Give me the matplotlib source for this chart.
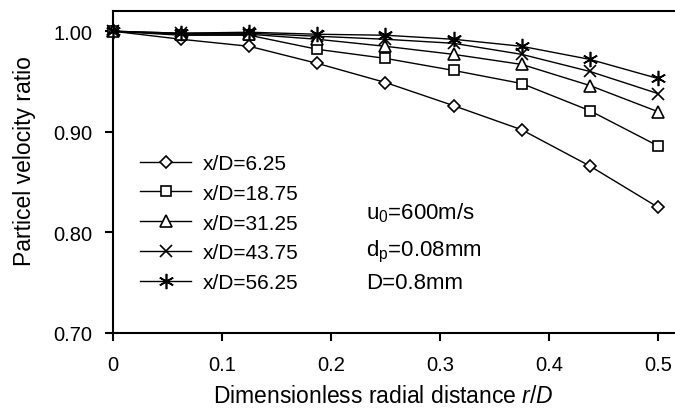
import matplotlib
matplotlib.use('Agg')
from matplotlib import pyplot as plt

plt.rcParams['font.family'] = ['Liberation Sans', 'DejaVu Sans']
plt.rcParams['mathtext.fontset'] = 'custom'
plt.rcParams['mathtext.rm'] = 'Liberation Sans'
plt.rcParams['mathtext.it'] = 'Liberation Sans:italic'

# Radial positions r/D
r_over_d = [0, 0.0625, 0.125, 0.1875, 0.25, 0.3125, 0.375, 0.4375, 0.5]

# Particle velocity ratio for each axial station
v_625 = [1.000, 0.992, 0.985, 0.968, 0.949, 0.926, 0.902, 0.866, 0.825]
v_1875 = [1.000, 0.996, 0.996, 0.982, 0.973, 0.961, 0.948, 0.921, 0.886]
v_3125 = [1.000, 0.997, 0.997, 0.992, 0.985, 0.977, 0.967, 0.946, 0.920]
v_4375 = [1.000, 0.998, 0.998, 0.995, 0.992, 0.988, 0.977, 0.960, 0.938]
v_5625 = [1.000, 0.998, 0.999, 0.997, 0.996, 0.992, 0.985, 0.972, 0.953]

labels = ['x/D=6.25', 'x/D=18.75', 'x/D=31.25', 'x/D=43.75', 'x/D=56.25']
series = [v_625, v_1875, v_3125, v_4375, v_5625]
markers = ['D', 's', '^', 'x', (6, 2, 0)]
msizes = [6.5, 7.5, 9, 9, 11]

x_ticks = [0, 0.1, 0.2, 0.3, 0.4, 0.5]
x_ticklabels = ['0', '0.1', '0.2', '0.3', '0.4', '0.5']
y_ticks = [0.70, 0.80, 0.90, 1.00]

fig = plt.figure(figsize=(6.75, 4.10), dpi=100)
ax = fig.add_axes([113 / 675, 1 - 334 / 410, 562 / 675, (334 - 11.7) / 410])

for vals, lab, mk, ms in zip(series, labels, markers, msizes):
    ax.plot(r_over_d, vals, color='black', linewidth=1.0, marker=mk,
            markersize=ms, markerfacecolor='white', markeredgecolor='black',
            markeredgewidth=1.2, label=lab, clip_on=False, zorder=3)

ax.set_xlim(0, 0.5156)
ax.set_ylim(0.70, 1.0204)
ax.set_xticks(x_ticks)
ax.set_xticklabels(x_ticklabels)
ax.set_yticks(y_ticks)
ax.set_yticklabels(['%.2f' % v for v in y_ticks])
ax.tick_params(axis='both', direction='out', length=6, width=1.5,
               labelsize=14.5, color='black')
ax.tick_params(axis='x', pad=10)
ax.tick_params(axis='y', pad=9)

for side in ['left', 'bottom', 'top']:
    ax.spines[side].set_linewidth(1.5)
ax.spines['right'].set_visible(False)

ax.legend(loc='center left', bbox_to_anchor=(140 / 675, 1 - 224 / 410),
          bbox_transform=fig.transFigure, frameon=False, fontsize=15,
          handlelength=2.45, handletextpad=0.55, labelspacing=0.52,
          borderpad=0, borderaxespad=0)

ax.text(366 / 675, 1 - 219 / 410, 'u$_0$=600m/s', transform=fig.transFigure,
        fontsize=16, va='baseline', ha='left')
ax.text(366 / 675, 1 - 256 / 410, r'd$_\mathrm{p}$=0.08mm',
        transform=fig.transFigure, fontsize=16, va='baseline', ha='left')
ax.text(366 / 675, 1 - 289 / 410, 'D=0.8mm', transform=fig.transFigure,
        fontsize=16, va='baseline', ha='left')

fig.text(383 / 675, 1 - 397 / 410, r'Dimensionless radial distance $\mathit{r/D}$',
         fontsize=16.5, ha='center', va='center')
fig.text(25 / 675, 1 - 161.5 / 410, 'Particel velocity ratio', rotation=90,
         fontsize=16.5, ha='center', va='center')

fig.savefig('out.png', dpi=100)
